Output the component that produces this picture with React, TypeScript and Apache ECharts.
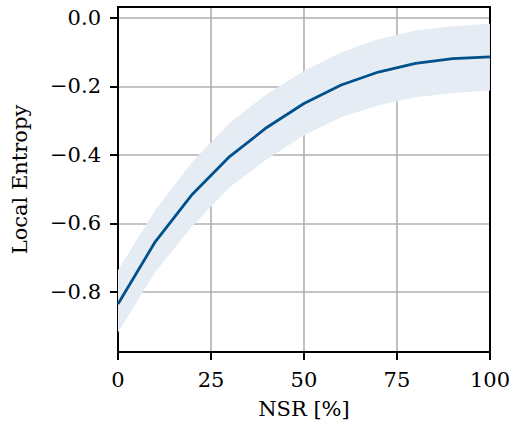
import React, { useEffect, useRef } from "react";
import * as echarts from "echarts";

const nsr = [0, 10, 20, 30, 40, 50, 60, 70, 80, 90, 100];
const meanEntropy = [-0.836, -0.654, -0.515, -0.405, -0.32, -0.25, -0.196, -0.158, -0.133, -0.119, -0.114];
const upperEntropy = [-0.737, -0.562, -0.42, -0.307, -0.222, -0.155, -0.1, -0.062, -0.037, -0.024, -0.017];
const lowerEntropy = [-0.919, -0.742, -0.608, -0.495, -0.413, -0.343, -0.29, -0.255, -0.232, -0.219, -0.212];
const xTicks = [0, 25, 50, 75, 100];
const yTicks = [-0.8, -0.6, -0.4, -0.2, 0.0];

const FONT = "DejaVu Serif";
const Y_MIN = -0.976;
const Y_MAX = 0.032;

export default function App() {
  const ref = useRef<HTMLDivElement>(null);
  useEffect(() => {
    if (!ref.current) return;
    const chart = echarts.init(ref.current, undefined, { renderer: "svg" });
    const bandData = nsr.map((x, i) => [x, lowerEntropy[i], upperEntropy[i]]);
    const mean = nsr.map((x, i) => [x, meanEntropy[i]]);
    const spine = { show: true, onZero: false, lineStyle: { color: "#000", width: 2 } };
    chart.setOption({
      animation: false,
      backgroundColor: "#ffffff",
      grid: { left: 118, right: 23, top: 7, bottom: 84, containLabel: false },
      xAxis: [
        {
          type: "value",
          min: 0,
          max: 100,
          interval: 25,
          name: "NSR [%]",
          nameLocation: "middle",
          nameGap: 46,
          nameTextStyle: { fontFamily: FONT, fontSize: 21, color: "#000" },
          axisLine: spine,
          axisTick: { show: true, inside: false, length: 8, lineStyle: { color: "#000", width: 2 } },
          axisLabel: {
            fontFamily: FONT,
            fontSize: 21,
            color: "#000",
            margin: 17,
            customValues: xTicks,
          },
          splitLine: { show: true, lineStyle: { color: "#b0b0b0", width: 1.6 } },
        },
        {
          type: "value",
          position: "top",
          min: 0,
          max: 100,
          interval: 25,
          axisLine: spine,
          axisTick: { show: false },
          axisLabel: { show: false },
          splitLine: { show: false },
        },
      ],
      yAxis: [
        {
          type: "value",
          min: Y_MIN,
          max: Y_MAX,
          name: "Local Entropy",
          nameLocation: "middle",
          nameGap: 88,
          nameRotate: 90,
          nameTextStyle: { fontFamily: FONT, fontSize: 21, color: "#000" },
          axisLine: spine,
          axisTick: { show: true, inside: false, length: 8, customValues: yTicks, lineStyle: { color: "#000", width: 2 } },
          axisLabel: {
            fontFamily: FONT,
            fontSize: 21,
            color: "#000",
            margin: 17,
            customValues: yTicks,
            formatter: (v: number) => (v < 0 ? "\u2212" + Math.abs(v).toFixed(1) : v.toFixed(1)),
          },
          splitLine: { show: true, lineStyle: { color: "#b0b0b0", width: 1.6 } },
        },
        {
          type: "value",
          position: "right",
          min: Y_MIN,
          max: Y_MAX,
          axisLine: spine,
          axisTick: { show: false },
          axisLabel: { show: false },
          splitLine: { show: false },
        },
      ],
      series: [
        {
          type: "custom",
          xAxisIndex: 0,
          yAxisIndex: 0,
          data: bandData,
          silent: true,
          z: 2,
          renderItem: (params: any, api: any) => {
            if (params.dataIndex !== 0) return null;
            const upperPts: number[][] = [];
            const lowerPts: number[][] = [];
            for (let i = 0; i < bandData.length; i++) {
              upperPts.push(api.coord([bandData[i][0], bandData[i][2]]));
              lowerPts.push(api.coord([bandData[i][0], bandData[i][1]]));
            }
            const points = upperPts.concat(lowerPts.reverse());
            return {
              type: "polygon",
              shape: { points },
              style: { fill: "#e5ecf3", stroke: "none" },
            };
          },
        },
        {
          type: "line",
          xAxisIndex: 0,
          yAxisIndex: 0,
          data: mean,
          symbol: "none",
          lineStyle: { color: "#00508c", width: 2.8 },
          z: 5,
        },
      ],
    });
    return () => chart.dispose();
  }, []);
  return (
    <div
      ref={ref}
      style={{ position: "fixed", left: 0, top: 0, width: 513, height: 436 }}
    />
  );
}
